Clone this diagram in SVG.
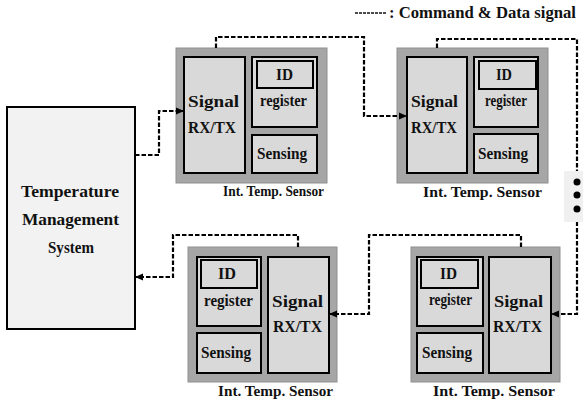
<svg xmlns="http://www.w3.org/2000/svg" width="583" height="405" viewBox="0 0 583 405">
  <style>
    text { font-family: "Liberation Serif", "Times New Roman", serif; font-weight: bold; fill: #111; }
    .lbl { font-size: 16px; }
    .cap { font-size: 15.5px; }
    .tms { font-size: 17.5px; }
    .legend { font-size: 16.5px; }
    .frame { fill: #a6a6a6; stroke: #8f8f8f; stroke-width: 1; }
    .part { fill: #d9d9d9; stroke: #000; stroke-width: 2; }
    .host { fill: #f2f2f2; stroke: #000; stroke-width: 2; }
    .link { fill: none; stroke: #000; stroke-width: 2.2; stroke-dasharray: 4.5 2; marker-end: url(#arrow); }
  </style>
  <defs>
    <marker id="arrow" viewBox="0 0 8 8" refX="8" refY="4" markerWidth="8" markerHeight="8" markerUnits="userSpaceOnUse" orient="auto">
      <path d="M0,0.5 L8,4 L0,7.5 Z" fill="#000"/>
    </marker>
  </defs>

  <rect width="583" height="405" fill="#fff"/>

  <!-- legend: line sample + caption -->
  <g id="legend">
    <line x1="355" y1="13" x2="387" y2="13" stroke="#111" stroke-width="1.6" stroke-dasharray="3 1"/>
    <text class="legend" x="389" y="18" textLength="187" lengthAdjust="spacingAndGlyphs">: Command &amp; Data signal</text>
  </g>

  <!-- host -->
  <g id="tms">
    <rect class="host" x="7" y="107" width="128" height="222"/>
    <text class="tms" x="21" y="197" textLength="98" lengthAdjust="spacingAndGlyphs">Temperature</text>
    <text class="tms" x="22" y="225" textLength="97" lengthAdjust="spacingAndGlyphs">Management</text>
    <text class="tms" x="48" y="253" textLength="46" lengthAdjust="spacingAndGlyphs">System</text>
  </g>

  <!-- sensor 1 (top left) -->
  <g id="sensor1">
    <rect class="frame" x="176" y="48" width="151" height="135"/>
    <rect class="part" x="184" y="57" width="61" height="116"/>
    <rect class="part" x="252" y="57" width="65" height="70"/>
    <rect class="part" x="257" y="61" width="56" height="27"/>
    <rect class="part" x="252" y="135" width="65" height="38"/>
    <text class="lbl" x="188" y="107" textLength="51" lengthAdjust="spacingAndGlyphs">Signal</text>
    <text class="lbl" x="188" y="133" textLength="48" lengthAdjust="spacingAndGlyphs">RX/TX</text>
    <text class="lbl" x="276" y="80" textLength="17" lengthAdjust="spacingAndGlyphs">ID</text>
    <text class="lbl" x="260" y="106" textLength="47" lengthAdjust="spacingAndGlyphs">register</text>
    <text class="lbl" x="257" y="159" textLength="50" lengthAdjust="spacingAndGlyphs">Sensing</text>
    <text class="cap" x="223" y="196" textLength="101" lengthAdjust="spacingAndGlyphs">Int. Temp. Sensor</text>
  </g>

  <!-- sensor 2 (top right) -->
  <g id="sensor2">
    <rect class="frame" x="397" y="48" width="151" height="135"/>
    <rect class="part" x="407" y="57" width="60" height="116"/>
    <rect class="part" x="474" y="57" width="64" height="70"/>
    <rect class="part" x="479" y="61" width="57" height="28"/>
    <rect class="part" x="474" y="134" width="64" height="39"/>
    <text class="lbl" x="411" y="107" textLength="47" lengthAdjust="spacingAndGlyphs">Signal</text>
    <text class="lbl" x="411" y="133" textLength="46" lengthAdjust="spacingAndGlyphs">RX/TX</text>
    <text class="lbl" x="496" y="80" textLength="16" lengthAdjust="spacingAndGlyphs">ID</text>
    <text class="lbl" x="485" y="106" textLength="42" lengthAdjust="spacingAndGlyphs">register</text>
    <text class="lbl" x="478" y="159" textLength="50" lengthAdjust="spacingAndGlyphs">Sensing</text>
    <text class="cap" x="423" y="197" textLength="119" lengthAdjust="spacingAndGlyphs">Int. Temp. Sensor</text>
  </g>

  <!-- sensor 3 (bottom left) -->
  <g id="sensor3">
    <rect class="frame" x="188" y="247" width="149" height="135"/>
    <rect class="part" x="197" y="257" width="64" height="69"/>
    <rect class="part" x="201" y="260" width="56" height="28"/>
    <rect class="part" x="197" y="333" width="64" height="40"/>
    <rect class="part" x="268" y="257" width="61" height="116"/>
    <text class="lbl" x="218" y="279" textLength="18" lengthAdjust="spacingAndGlyphs">ID</text>
    <text class="lbl" x="204" y="306" textLength="49" lengthAdjust="spacingAndGlyphs">register</text>
    <text class="lbl" x="201" y="358" textLength="50" lengthAdjust="spacingAndGlyphs">Sensing</text>
    <text class="lbl" x="272" y="307" textLength="51" lengthAdjust="spacingAndGlyphs">Signal</text>
    <text class="lbl" x="273" y="332" textLength="49" lengthAdjust="spacingAndGlyphs">RX/TX</text>
    <text class="cap" x="218" y="396" textLength="115" lengthAdjust="spacingAndGlyphs">Int. Temp. Sensor</text>
  </g>

  <!-- sensor 4 (bottom right) -->
  <g id="sensor4">
    <rect class="frame" x="411" y="247" width="149" height="135"/>
    <rect class="part" x="417" y="257" width="66" height="69"/>
    <rect class="part" x="421" y="260" width="57" height="28"/>
    <rect class="part" x="417" y="333" width="66" height="40"/>
    <rect class="part" x="489" y="257" width="62" height="116"/>
    <text class="lbl" x="440" y="279" textLength="17" lengthAdjust="spacingAndGlyphs">ID</text>
    <text class="lbl" x="429" y="305" textLength="43" lengthAdjust="spacingAndGlyphs">register</text>
    <text class="lbl" x="422" y="358" textLength="50" lengthAdjust="spacingAndGlyphs">Sensing</text>
    <text class="lbl" x="494" y="307" textLength="49" lengthAdjust="spacingAndGlyphs">Signal</text>
    <text class="lbl" x="493" y="332" textLength="49" lengthAdjust="spacingAndGlyphs">RX/TX</text>
    <text class="cap" x="433" y="396" textLength="122" lengthAdjust="spacingAndGlyphs">Int. Temp. Sensor</text>
  </g>

  <!-- signal chain -->
  <g id="connectors">
    <path class="link" d="M135,155 H159 V111 H184"/>
    <path class="link" d="M216,48 V37 H364 V116 H407"/>
    <path class="link" d="M437,48 V39 H577 V314 H551"/>
    <path class="link" d="M521,247 V235 H369 V314 H329"/>
    <path class="link" d="M298,247 V235 H173 V277 H135"/>
  </g>

  <!-- continuation marks -->
  <g id="ellipsis">
    <rect x="564" y="171" width="19" height="51" fill="#f0f0f0"/>
    <circle cx="577" cy="182" r="3.5" fill="#000"/>
    <circle cx="577" cy="195" r="3.5" fill="#000"/>
    <circle cx="577" cy="209" r="3.5" fill="#000"/>
  </g>
</svg>
